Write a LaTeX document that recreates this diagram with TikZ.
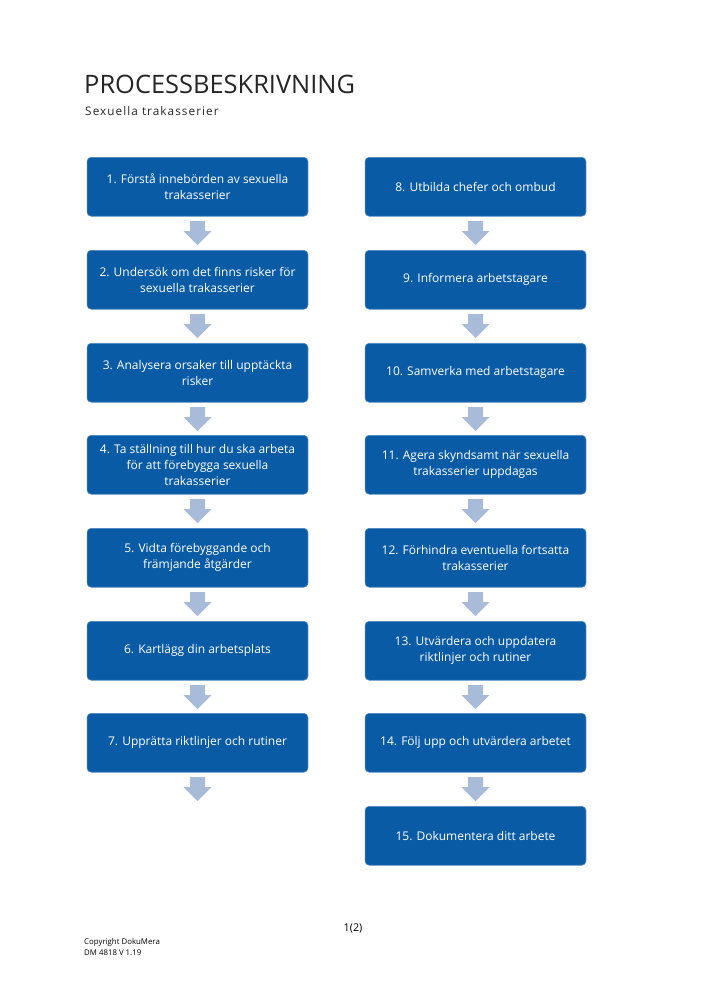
\documentclass[tikz,border=0pt]{standalone}
\usepackage{fontspec}
\setmainfont{Open Sans}
\usetikzlibrary{positioning}
\definecolor{boxblue}{HTML}{0A5BA6}
\definecolor{boxedge}{HTML}{4F86C0}
\definecolor{arrowblue}{HTML}{A8BCDA}
\tikzset{
  stepbox/.style={draw=boxedge, line width=0.5pt, fill=boxblue, rounded corners=3.5pt,
    text=white, align=center, inner sep=2pt,
    font=\fontsize{10.1}{13.5}\selectfont},
  downarrow/.style={fill=arrowblue, draw=none},
}
\newcommand{\boxat}[4]{% name, cx, top, text
  \node[stepbox, minimum width=186pt, minimum height=49.6pt, anchor=north] (#1) at (#2,#3) {#4};}
\newcommand{\arrowbelow}[2]{% x center, top y
  \fill[arrowblue] (#1-7.5,#2) -- (#1+7.5,#2) -- (#1+7.5,#2+10) -- (#1+14,#2+10) -- (#1,#2+24) -- (#1-14,#2+10) -- (#1-7.5,#2+10) -- cycle;}
\begin{document}
\begin{tikzpicture}[x=0.842pt,y=-0.842pt]
\useasboundingbox[fill=white] (0,0) rectangle (707,1000);
\node[anchor=base west, inner sep=0, font=\fontsize{21.4}{24}\selectfont, text=black!85] (title) at (84,93) {PROCESSBESKRIVNING};
\node[anchor=base west, inner sep=0, font=\fontsize{9.9}{12}\selectfont\addfontfeatures{LetterSpace=9}, text=black!85] (sub) at (85,115) {Sexuella trakasserier};
\def\lx{197.5}
\def\rx{475.5}
% left column
\boxat{b1}{\lx}{157}{1. Förstå innebörden av sexuella\\trakasserier}
\boxat{b2}{\lx}{250}{2. Undersök om det finns risker för\\sexuella trakasserier}
\boxat{b3}{\lx}{343}{3. Analysera orsaker till upptäckta\\risker}
\boxat{b4}{\lx}{435}{4. Ta ställning till hur du ska arbeta\\för att förebygga sexuella\\trakasserier}
\boxat{b5}{\lx}{528}{5. Vidta förebyggande och\\främjande åtgärder}
\boxat{b6}{\lx}{621}{6. Kartlägg din arbetsplats}
\boxat{b7}{\lx}{713}{7. Upprätta riktlinjer och rutiner}
% right column
\boxat{b8}{\rx}{157}{8. Utbilda chefer och ombud}
\boxat{b9}{\rx}{250}{9. Informera arbetstagare}
\boxat{b10}{\rx}{343}{10. Samverka med arbetstagare}
\boxat{b11}{\rx}{435}{11. Agera skyndsamt när sexuella\\trakasserier uppdagas}
\boxat{b12}{\rx}{528}{12. Förhindra eventuella fortsatta\\trakasserier}
\boxat{b13}{\rx}{621}{13. Utvärdera och uppdatera\\riktlinjer och rutiner}
\boxat{b14}{\rx}{713}{14. Följ upp och utvärdera arbetet}
\boxat{b15}{\rx}{806}{15. Dokumentera ditt arbete}
% arrows
\foreach \t in {221,314,407,499,592,685,777}{\arrowbelow{\lx}{\t}}
\foreach \t in {221,314,407,499,592,685,777}{\arrowbelow{\rx}{\t}}
% footer
\node[anchor=base, inner sep=0, font=\fontsize{9}{10}\selectfont] (page) at (353,931) {1(2)};
\node[anchor=base west, inner sep=0, font=\fontsize{6.6}{7}\selectfont, align=left] (copy) at (84,944) {Copyright DokuMera};
\node[anchor=base west, inner sep=0, font=\fontsize{6.6}{7}\selectfont, align=left] (dm) at (84,955) {DM 4818 V 1.19};
\end{tikzpicture}
\end{document}
